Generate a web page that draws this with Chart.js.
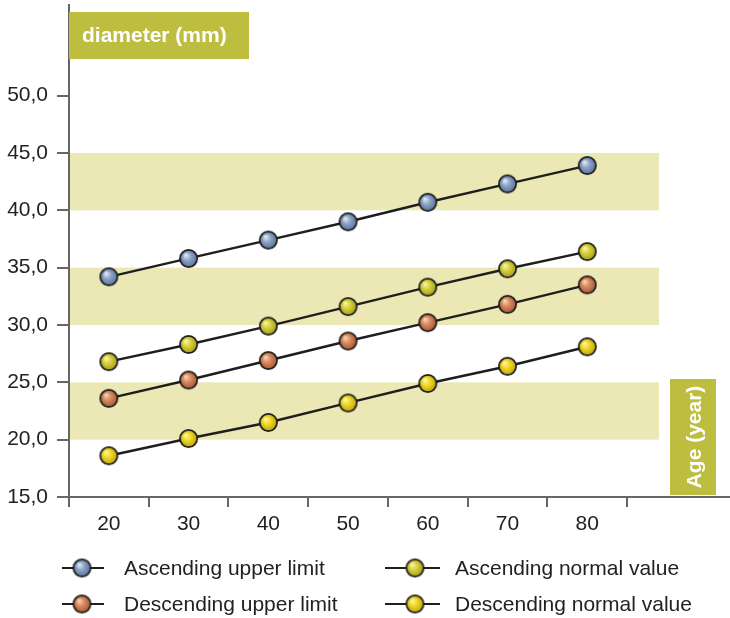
<!DOCTYPE html>
<html>
<head>
<meta charset="utf-8">
<script src="https://cdn.jsdelivr.net/npm/chart.js@4.4.1/dist/chart.umd.min.js"></script>
<style>
  html, body { margin: 0; padding: 0; background: #fff; }
  #wrap { width: 730px; height: 618px; position: relative; }
</style>
</head>
<body>
<div id="wrap"><canvas id="chart" width="730" height="618"></canvas></div>
<script>
// data
const ages = [20, 30, 40, 50, 60, 70, 80];
const ascUpper   = [34.2, 35.8, 37.4, 39.0, 40.7, 42.3, 43.9];
const ascNormal  = [26.8, 28.3, 29.9, 31.6, 33.3, 34.9, 36.4];
const descUpper  = [23.6, 25.2, 26.9, 28.6, 30.2, 31.8, 33.5];
const descNormal = [18.6, 20.1, 21.5, 23.2, 24.9, 26.4, 28.1];

const yTicks = [15, 20, 25, 30, 35, 40, 45, 50];
const xTickMarks = [15, 25, 35, 45, 55, 65, 75, 85];
const bandFrom = [20, 30, 40];
const bandTo   = [25, 35, 45];
const bandEnd = 89;

const seriesNames = ['Ascending upper limit', 'Ascending normal value', 'Descending upper limit', 'Descending normal value'];

const FONT = '"Liberation Sans", Arial, sans-serif';
const OLIVE = '#bdbd40';
const BAND = '#ebe8b6';
const AXIS = '#666666';

function sphere(base, light, dark) {
  const c = document.createElement('canvas');
  c.width = 21; c.height = 21;
  const g = c.getContext('2d');
  const cx = 10.5, cy = 10.5, r = 8.6;
  const grad = g.createRadialGradient(cx - 3, cy - 3.5, 0.5, cx, cy, r);
  grad.addColorStop(0, light);
  grad.addColorStop(0.45, base);
  grad.addColorStop(1, dark);
  g.beginPath();
  g.arc(cx, cy, r, 0, Math.PI * 2);
  g.fillStyle = grad;
  g.fill();
  g.lineWidth = 1.7;
  g.strokeStyle = '#1c1c1c';
  g.stroke();
  return c;
}

const blueBall   = sphere('#8da4c7', '#e3ebf5', '#5b7399');
const oliveBall  = sphere('#d6d13a', '#f6f4b0', '#a29c1e');
const orangeBall = sphere('#d88a5e', '#f6d3bb', '#a55833');
const yellowBall = sphere('#f0d823', '#fcf5ab', '#bea40f');

function pts(vals) {
  return ages.map((a, i) => ({ x: a, y: vals[i] }));
}

function ds(label, vals, ball) {
  return {
    label: label,
    data: pts(vals),
    borderColor: '#1e1e1e',
    borderWidth: 2.4,
    tension: 0,
    pointStyle: ball,
    pointRadius: 9,
    clip: false
  };
}

const decor = {
  id: 'decor',
  beforeDraw(chart) {
    const { ctx, chartArea, scales } = chart;
    const x = scales.x, y = scales.y;
    ctx.save();
    ctx.fillStyle = BAND;
    const right = x.getPixelForValue(bandEnd);
    for (let i = 0; i < bandFrom.length; i++) {
      const top = y.getPixelForValue(bandTo[i]);
      const bot = y.getPixelForValue(bandFrom[i]);
      ctx.fillRect(chartArea.left, top, right - chartArea.left, bot - top);
    }
    ctx.restore();
  },
  afterDraw(chart) {
    const ctx = chart.ctx;
    ctx.save();
    // title box
    ctx.fillStyle = OLIVE;
    ctx.fillRect(69, 12, 180, 47);
    ctx.fillStyle = '#ffffff';
    ctx.font = 'bold 21px ' + FONT;
    ctx.textBaseline = 'middle';
    ctx.textAlign = 'left';
    ctx.fillText('diameter (mm)', 82, 36);
    // age box
    ctx.fillStyle = OLIVE;
    ctx.fillRect(670, 379, 46, 116);
    ctx.translate(694, 437);
    ctx.rotate(-Math.PI / 2);
    ctx.fillStyle = '#ffffff';
    ctx.textAlign = 'center';
    ctx.fillText('Age (year)', 0, 1);
    ctx.restore();

    // legend, two columns
    const cols = [[62, 82, 104, 124], [385, 415, 440, 455]];
    const rows = [568, 604];
    const order = [[0, 0, 0], [1, 1, 0], [2, 0, 1], [3, 1, 1]];
    ctx.save();
    ctx.font = '21px ' + FONT;
    ctx.textBaseline = 'middle';
    ctx.textAlign = 'left';
    order.forEach(([di, c, r]) => {
      const d = chart.data.datasets[di];
      const [l0, mx, l1, tx] = cols[c];
      const yy = rows[r];
      ctx.strokeStyle = '#1e1e1e';
      ctx.lineWidth = 2.2;
      ctx.beginPath();
      ctx.moveTo(l0, yy);
      ctx.lineTo(l1, yy);
      ctx.stroke();
      ctx.drawImage(d.pointStyle, mx - 10.5, yy - 10.5);
      ctx.fillStyle = '#222222';
      ctx.fillText(d.label, tx, yy + 1);
    });
    ctx.restore();
  }
};

new Chart(document.getElementById('chart'), {
  type: 'line',
  data: {
    datasets: [
      ds(seriesNames[0], ascUpper, blueBall),
      ds(seriesNames[1], ascNormal, oliveBall),
      ds(seriesNames[2], descUpper, orangeBall),
      ds(seriesNames[3], descNormal, yellowBall)
    ]
  },
  options: {
    responsive: false,
    animation: false,
    layout: { autoPadding: false, padding: { top: 5, right: 0, left: 0, bottom: 0 } },
    plugins: { legend: { display: false }, tooltip: { enabled: false } },
    scales: {
      x: {
        type: 'linear',
        min: 15,
        max: 97.9,
        afterFit(s) { s.height = 121; s.paddingLeft = 0; s.paddingRight = 0; },
        afterBuildTicks(s) {
          const t = xTickMarks.concat(ages).sort((a, b) => a - b);
          s.ticks = t.map(v => ({ value: v }));
        },
        ticks: {
          autoSkip: false,
          maxRotation: 0,
          padding: 5,
          color: '#222222',
          font: { family: FONT, size: 21 },
          callback: v => ages.includes(v) ? String(v) : ''
        },
        grid: {
          drawOnChartArea: false,
          tickLength: 10,
          lineWidth: 2,
          color: c => (c.tick && ages.includes(c.tick.value)) ? 'rgba(0,0,0,0)' : AXIS
        },
        border: { color: AXIS, width: 2 }
      },
      y: {
        min: 15,
        max: 57.9,
        afterFit(s) { s.width = 69; s.paddingTop = 0; s.paddingBottom = 0; },
        afterBuildTicks(s) { s.ticks = yTicks.map(v => ({ value: v })); },
        ticks: {
          padding: 9,
          color: '#222222',
          font: { family: FONT, size: 21 },
          callback: v => v.toFixed(1).replace('.', ',')
        },
        grid: {
          drawOnChartArea: false,
          tickLength: 12,
          lineWidth: 2,
          color: AXIS
        },
        border: { color: AXIS, width: 2 }
      }
    }
  },
  plugins: [decor]
});
</script>
</body>
</html>
